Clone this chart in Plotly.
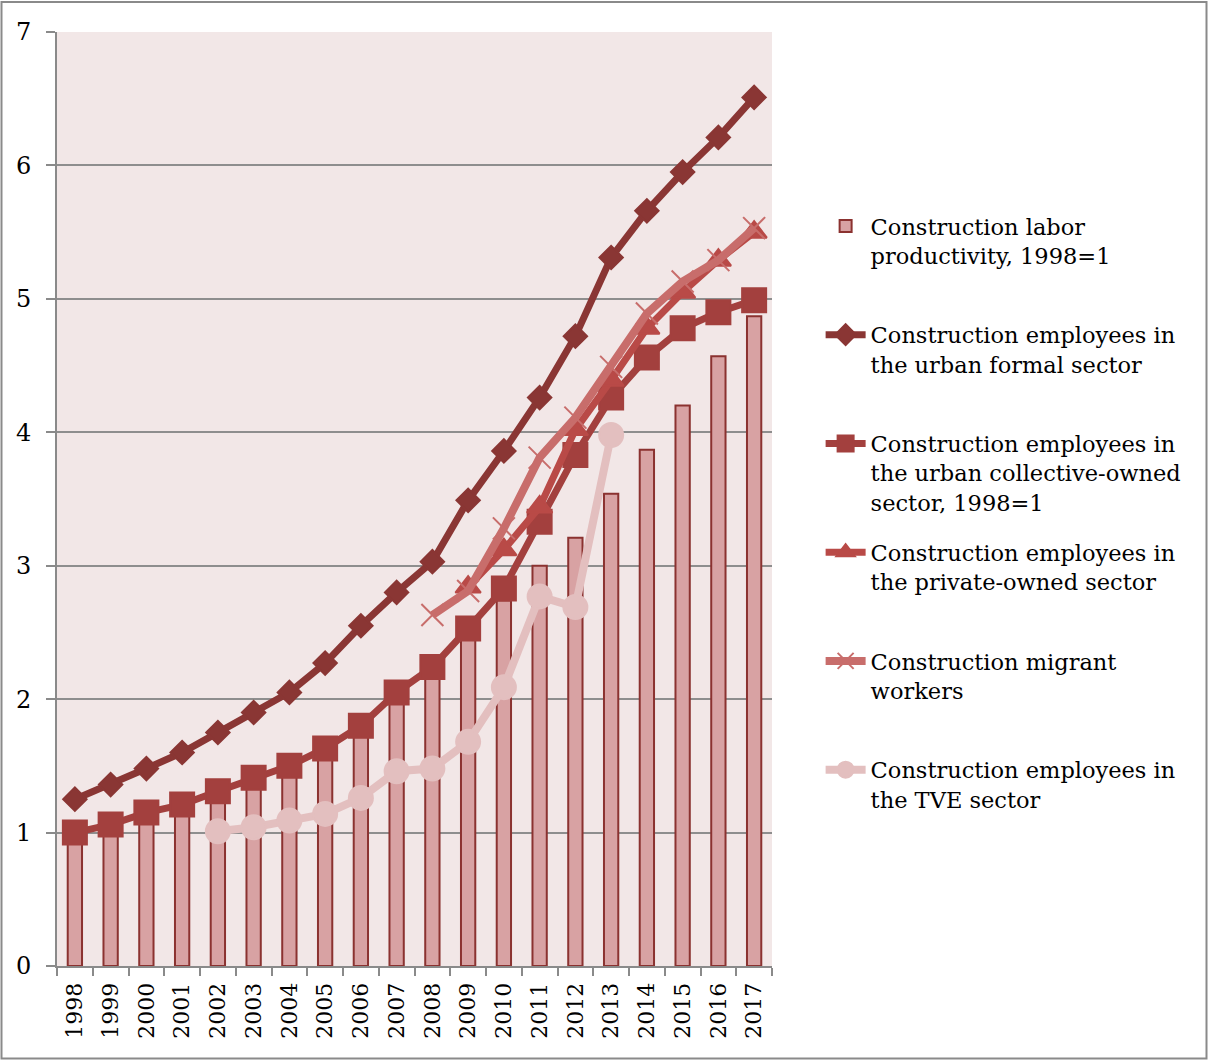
import plotly.graph_objects as go

# Years on the category axis
years = [str(y) for y in range(1998, 2018)]

# Construction labor productivity index (1998 = 1), drawn as bars
labor_productivity = [1.00, 1.05, 1.12, 1.18, 1.27, 1.37, 1.47, 1.60, 1.77, 2.00,
                      2.20, 2.48, 2.74, 3.00, 3.21, 3.54, 3.87, 4.20, 4.57, 4.87]

# Employee indices by sector (None where the series has no data)
urban_formal = [1.25, 1.36, 1.48, 1.60, 1.75, 1.90, 2.05, 2.27, 2.55, 2.80,
                3.03, 3.49, 3.86, 4.26, 4.72, 5.31, 5.66, 5.95, 6.21, 6.51]
urban_collective = [1.00, 1.06, 1.15, 1.21, 1.31, 1.41, 1.50, 1.63, 1.80, 2.05,
                    2.24, 2.53, 2.83, 3.33, 3.83, 4.26, 4.56, 4.78, 4.90, 4.99]
private_owned = [None] * 11 + [2.84, 3.12, 3.44, 4.02, 4.39, 4.78, 5.05, 5.29, 5.50]
migrant_workers = [None] * 10 + [2.63, 2.81, 3.28, 3.81, 4.11, 4.49, 4.89, 5.13, 5.29, 5.53]
tve_sector = [None] * 4 + [1.01, 1.04, 1.09, 1.14, 1.26, 1.46, 1.48, 1.68, 2.09,
                           2.77, 2.69, 3.98] + [None] * 4

FONT = "DejaVu Serif"
PAD = "<br>&nbsp;"

fig = go.Figure()

fig.add_trace(go.Bar(
    x=years, y=labor_productivity,
    name="Construction labor<br>productivity, 1998=1" + PAD,
    marker=dict(color="#D8A2A3", line=dict(color="#8B3230", width=2)),
    legendgroup="g1",
))

line_specs = [
    (urban_formal, "Construction employees in<br>the urban formal sector" + PAD,
     "#8A3634", "diamond", 18, 7),
    (urban_collective, "Construction employees in<br>the urban collective-owned<br>sector, 1998=1",
     "#A3403E", "square", 24, 7),
    (private_owned, "Construction employees in<br>the private-owned sector" + PAD,
     "#B94A47", "triangle-up", 22, 7),
    (migrant_workers, "Construction migrant<br>workers" + PAD,
     "#C86D6B", "x-thin", 22, 8),
    (tve_sector, "Construction employees in<br>the TVE sector" + PAD,
     "#E3BFBF", "circle", 24, 8),
]

for i, (vals, name, color, symbol, size, width) in enumerate(line_specs):
    marker = dict(symbol=symbol, size=size, color=color,
                  line=dict(color=color, width=2))
    fig.add_trace(go.Scatter(
        x=years, y=vals, name=name, mode="lines+markers",
        line=dict(color=color, width=width),
        marker=marker,
        connectgaps=False,
        legendgroup=f"g{i + 2}",
    ))

fig.update_layout(
    width=1208, height=1061,
    margin=dict(l=57, r=436, t=32, b=95),
    paper_bgcolor="white",
    plot_bgcolor="#F2E7E7",
    bargap=0.6,
    font=dict(family=FONT, size=22, color="black"),
    showlegend=True,
    legend=dict(
        x=1.068, y=0.815, xanchor="left", yanchor="top",
        font=dict(family=FONT, size=22.5, color="black"),
        valign="top",
        tracegroupgap=18,
        itemwidth=40,
        bgcolor="rgba(0,0,0,0)",
    ),
    xaxis=dict(
        type="category",
        range=[-0.5, 19.5],
        tickangle=-90,
        showgrid=False,
        showline=True, linecolor="#8A8A8A", linewidth=2,
        ticks="outside", ticklen=8, tickcolor="#8A8A8A", tickwidth=2,
        tickson="boundaries",
        ticklabelstandoff=6,
        tickfont=dict(family=FONT, size=22),
    ),
    yaxis=dict(
        range=[0, 7], dtick=1,
        showgrid=True, gridcolor="#8E8E8E", gridwidth=2,
        showline=True, linecolor="#8A8A8A", linewidth=2,
        ticks="outside", ticklen=9, tickcolor="#8A8A8A", tickwidth=2,
        zeroline=False,
        ticklabelstandoff=10,
        tickfont=dict(family=FONT, size=24),
    ),
)

# Outer frame around the whole chart
fig.add_shape(
    type="rect", xref="paper", yref="paper",
    x0=(1.5 - 57) / 715, x1=(1206.5 - 57) / 715,
    y0=(966 - 1058.5) / 934, y1=(966 - 2.0) / 934,
    line=dict(color="#8A8A8A", width=2), fillcolor="rgba(0,0,0,0)",
    layer="above",
)

fig.write_html("out.html")
